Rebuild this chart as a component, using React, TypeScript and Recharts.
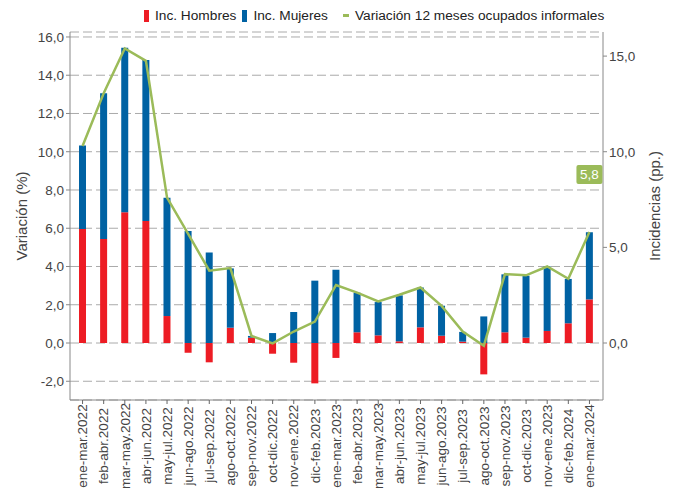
import React from 'react';
import { ComposedChart, Bar, Line, XAxis, YAxis, CartesianGrid, LabelList } from 'recharts';

const categories = [
  'ene-mar.2022', 'feb-abr.2022', 'mar-may.2022', 'abr-jun.2022', 'may-jul.2022', 'jun-ago.2022',
  'jul-sep.2022', 'ago-oct.2022', 'sep-nov.2022', 'oct-dic.2022', 'nov-ene.2022', 'dic-feb.2023',
  'ene-mar.2023', 'feb-abr.2023', 'mar-may.2023', 'abr-jun.2023', 'may-jul.2023', 'jun-ago.2023',
  'jul-sep.2023', 'ago-oct.2023', 'sep-nov.2023', 'oct-dic.2023', 'nov-ene.2023', 'dic-feb.2024',
  'ene-mar.2024',
];

const incHombres = [
  5.96, 5.44, 6.83, 6.38, 1.41, -0.51, -1.01, 0.8, 0.28, -0.56, -1.03, -2.11, -0.78,
  0.56, 0.4, 0.09, 0.82, 0.38, 0.07, -1.64, 0.56, 0.28, 0.63, 1.03, 2.28,
];

const incMujeres = [
  4.36, 7.62, 8.61, 8.42, 6.19, 5.86, 4.73, 3.1, 0.09, 0.52, 1.62, 3.26, 3.83,
  2.07, 1.74, 2.4, 2.08, 1.57, 0.51, 1.39, 3.03, 3.24, 3.38, 2.32, 3.51,
];

const variacion = [
  10.3, 13.06, 15.4, 14.75, 7.6, 5.7, 3.78, 3.92, 0.37, -0.02, 0.6, 1.12, 3.03,
  2.63, 2.17, 2.52, 2.9, 1.94, 0.6, -0.14, 3.6, 3.54, 4.0, 3.36, 5.8,
];

const leftTicks = [-2, 0, 2, 4, 6, 8, 10, 12, 14, 16];
const rightTicks = [0, 5, 10, 15];

const RED = '#ED1C24';
const BLUE = '#0062A3';
const GREEN = '#9BBB59';
const FONT = '"Liberation Sans", Arial, sans-serif';
const DOMAIN: [number, number] = [-2.98, 16.26];

const data = categories.map((c, i) => ({
  name: c,
  hombres: incHombres[i],
  mujeres: incMujeres[i],
  variacion: variacion[i],
}));

const fmt = (v: number) => v.toFixed(1).replace('.', ',');

// labels are centred along the rotated line, like the original
const XTick = (props: any) => {
  const { x, payload } = props;
  const cy = 446;
  return (
    <text
      x={x}
      y={cy}
      transform={`rotate(-90, ${x}, ${cy})`}
      textAnchor="middle"
      dy="0.35em"
      fill="#444"
      fontSize={13.5}
      fontFamily={FONT}
    >
      {payload.value}
    </text>
  );
};

const LastLabel = (props: any) => {
  const { x, y, index, value } = props;
  if (index !== variacion.length - 1) return null;
  return (
    <g>
      <rect x={x - 13} y={y - 67} width={26} height={19} rx={2} fill={GREEN} />
      <text x={x} y={y - 57.5} dy="0.35em" textAnchor="middle" fill="#fff" fontSize={13.5} fontFamily={FONT}>
        {fmt(value)}
      </text>
    </g>
  );
};

const LegendBox = () => (
  <div
    style={{
      position: 'absolute',
      top: 8,
      left: 0,
      width: 676,
      display: 'flex',
      paddingLeft: 144,
      boxSizing: 'border-box',
      fontFamily: FONT,
      fontSize: 13.7,
      color: '#222',
      alignItems: 'center',
      whiteSpace: 'nowrap',
    }}
  >
    <span style={{ display: 'inline-block', width: 5, height: 12, background: RED, marginRight: 6 }} />
    <span style={{ marginRight: 6 }}>Inc. Hombres</span>
    <span style={{ display: 'inline-block', width: 5, height: 12, background: BLUE, marginRight: 6 }} />
    <span style={{ marginRight: 15 }}>Inc. Mujeres</span>
    <span style={{ display: 'inline-block', width: 6, height: 3, background: GREEN, marginRight: 6 }} />
    <span>Variación 12 meses ocupados informales</span>
  </div>
);

export default function App() {
  return (
    <div style={{ position: 'absolute', left: 0, top: 0, width: 676, height: 490, background: '#fff' }}>
      <LegendBox />
      <ComposedChart
        width={676}
        height={490}
        data={data}
        stackOffset="sign"
        margin={{ top: 32, right: 0, bottom: 0, left: 0 }}
      >
        <CartesianGrid yAxisId="left" vertical={false} stroke="#aaa" strokeDasharray="9 4" />
        <XAxis
          dataKey="name"
          interval={0}
          height={90}
          padding={{ left: 2, right: 3 }}
          tick={<XTick />}
          tickSize={4}
          stroke="#888"
          tickLine={{ stroke: '#666' }}
        />
        <YAxis
          yAxisId="left"
          orientation="left"
          width={70}
          domain={DOMAIN}
          allowDataOverflow
          ticks={leftTicks}
          tickFormatter={fmt}
          tickSize={4}
          stroke="#888"
          tick={{ fill: '#444', fontSize: 13.5, fontFamily: FONT }}
          label={{ value: 'Variación (%)', angle: -90, position: 'center', dx: -13, style: { fill: '#444', fontSize: 15, fontFamily: FONT, textAnchor: 'middle' } }}
        />
        <YAxis
          yAxisId="right"
          orientation="right"
          width={73}
          domain={DOMAIN}
          allowDataOverflow
          ticks={rightTicks}
          tickFormatter={fmt}
          tickSize={4}
          stroke="#888"
          tick={{ fill: '#444', fontSize: 13.5, fontFamily: FONT }}
          label={{ value: 'Incidencias (pp.)', angle: -90, position: 'center', dx: 15, dy: -10, style: { fill: '#444', fontSize: 15, fontFamily: FONT, textAnchor: 'middle' } }}
        />
        <Bar yAxisId="right" dataKey="hombres" stackId="a" fill={RED} barSize={7} isAnimationActive={false} />
        <Bar yAxisId="right" dataKey="mujeres" stackId="a" fill={BLUE} barSize={7} isAnimationActive={false} />
        <Line
          yAxisId="left"
          dataKey="variacion"
          stroke={GREEN}
          strokeWidth={2.5}
          dot={false}
          isAnimationActive={false}
        >
          <LabelList dataKey="variacion" content={<LastLabel />} />
        </Line>
      </ComposedChart>
    </div>
  );
}
